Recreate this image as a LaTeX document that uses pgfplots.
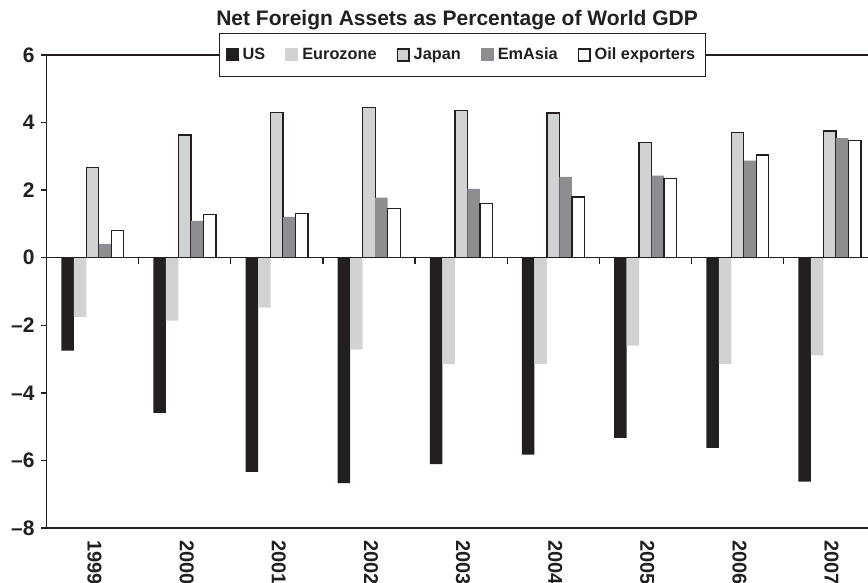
\documentclass[border=0pt]{standalone}
\usepackage{pgfplots}
\usepackage{pgfplotstable}
\pgfplotsset{compat=1.18}
\usepackage{fontspec}
\setmainfont{Liberation Sans}
\definecolor{ink}{HTML}{231F20}
\definecolor{lgray}{HTML}{D1D2D4}
\definecolor{mgray}{HTML}{8C8E91}

\pgfplotstableread{
x US Euro Japan EmAsia Oil
0 -2.75 -1.75 2.68 0.41 0.81
1 -4.59 -1.86 3.63 1.09 1.27
2 -6.34 -1.48 4.30 1.21 1.31
3 -6.67 -2.72 4.45 1.78 1.46
4 -6.11 -3.15 4.35 2.04 1.60
5 -5.83 -3.15 4.28 2.39 1.80
6 -5.33 -2.60 3.41 2.43 2.35
7 -5.63 -3.15 3.71 2.87 3.04
8 -6.63 -2.89 3.75 3.54 3.46
}\data

\begin{document}
\begin{tikzpicture}
\begin{axis}[
  scale only axis, width=414.6pt, height=236.5pt,
  at={(0,0)}, anchor=south west,
  xmin=-0.5, xmax=8.5, ymin=-8, ymax=6,
  enlargelimits=false,
  ybar=0pt, bar width=6.25pt,
  axis line style={draw=ink, line width=0.65pt},
  ytick={-8,-6,-4,-2,0,2,4,6},
  yticklabels={–8,–6,–4,–2,0,2,4,6},
  xtick={0,1,2,3,4,5,6,7,8},
  xticklabels={1999,2000,2001,2002,2003,2004,2005,2006,2007},
  tick align=outside, ytick pos=left, xtick pos=bottom,
  xtick style={draw=none},
  ytick style={draw=ink, line width=0.65pt},
  major tick length=2.5pt,
  tick label style={font=\fontsize{10.5}{12}\selectfont\bfseries, text=ink},
  xticklabel style={rotate=-90, anchor=west, font=\fontsize{10}{12}\selectfont\bfseries, yshift=1pt},
  title={Net Foreign Assets as Percentage of World GDP},
  title style={font=\fontsize{10.5}{12}\selectfont\bfseries, text=ink, at={(0.5,1)}, anchor=base, yshift=8.5pt, xshift=-2pt},
  legend columns=-1,
  legend style={at={(0.5,1)}, anchor=center, xshift=0.7pt, draw=ink, line width=0.65pt, fill=white,
    font=\fontsize{8.15}{9.8}\selectfont\bfseries, text=ink,
    inner xsep=3pt, inner ysep=5pt,
    /tikz/every even column/.append style={column sep=8pt}},
]
\addplot[fill=ink, draw=none, legend image code/.code={\fill[ink] (0pt,-3.25pt) rectangle (6.5pt,3.25pt);}] table[x=x, y=US] {\data};
\addlegendentry{US}
\addplot[fill=lgray, draw=none, legend image code/.code={\fill[lgray] (0pt,-3.25pt) rectangle (6.5pt,3.25pt);}] table[x=x, y=Euro] {\data};
\addlegendentry{Eurozone}
\addplot[fill=lgray, draw=ink, line width=0.65pt, legend image code/.code={\filldraw[fill=lgray, draw=ink, line width=0.65pt] (0.3pt,-2.95pt) rectangle (6.2pt,2.95pt);}] table[x=x, y=Japan] {\data};
\addlegendentry{Japan}
\addplot[fill=mgray, draw=none, legend image code/.code={\fill[mgray] (0pt,-3.25pt) rectangle (6.5pt,3.25pt);}] table[x=x, y=EmAsia] {\data};
\addlegendentry{EmAsia}
\addplot[fill=white, draw=ink, line width=0.65pt, legend image code/.code={\filldraw[fill=white, draw=ink, line width=0.65pt] (0.3pt,-2.95pt) rectangle (6.2pt,2.95pt);}] table[x=x, y=Oil] {\data};
\addlegendentry{Oil exporters}
\draw[ink, line width=0.65pt] (axis cs:-0.5,0) -- (axis cs:8.5,0);
\pgfplotsinvokeforeach{0.5,1.5,2.5,3.5,4.5,5.5,6.5,7.5}{
  \draw[ink, line width=0.65pt] (axis cs:#1,0) -- (axis cs:#1,-0.2);
}
\end{axis}
\pgfresetboundingbox
\path (-23.25pt,-27.5pt) rectangle (410.75pt,264pt);
\end{tikzpicture}
\end{document}
